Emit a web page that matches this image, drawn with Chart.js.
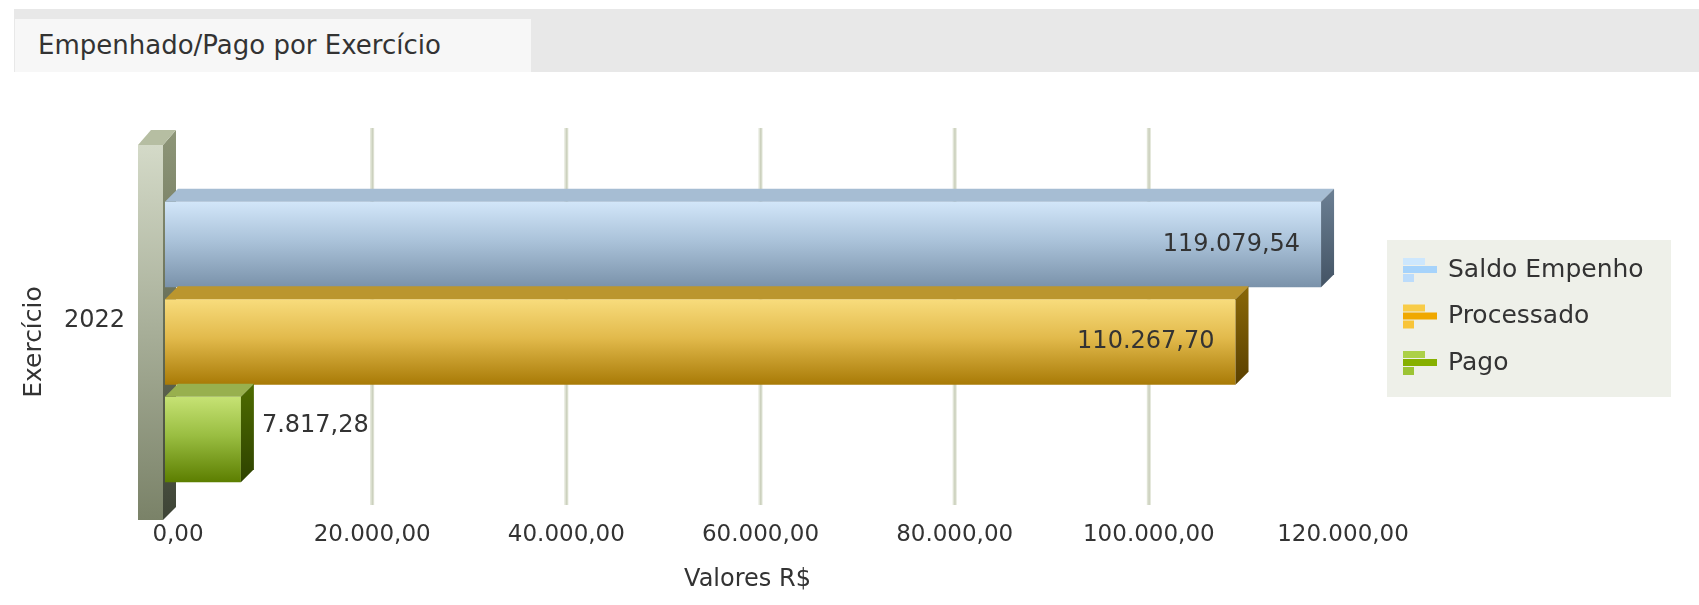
<!doctype html>
<html>
<head>
<meta charset="utf-8">
<title>Empenhado/Pago por Exercício</title>
<script src="https://cdn.jsdelivr.net/npm/chart.js@4.4.0/dist/chart.umd.min.js"></script>
<style>
	body { margin: 0; background: #fff; font-family: 'DejaVu Sans', sans-serif; }
	#bar { position: absolute; left: 14px; right: 0; top: 9px; height: 63px; background: #e8e8e8; }
	#tab { position: absolute; left: 15px; top: 19px; width: 516px; height: 53px; background: #f7f7f7;
		box-sizing: border-box; padding-left: 23px; line-height: 52px; font-size: 26px; color: #333; }
	#wrap { position: absolute; left: 0; top: 72px; width: 1699px; height: 533px; }
</style>
</head>
<body>
<div id="bar"></div>
<div id="tab">Empenhado/Pago por Exercício</div>
<div id="wrap"><canvas id="canvas" width="1699" height="533"></canvas></div>
<script>
	var categories = ['2022'];
	var seriesNames = ['Saldo Empenho', 'Processado', 'Pago'];
	var saldoEmpenho = [119079.54];
	var processado = [110267.70];
	var pago = [7817.28];
	var xTickValues = [0, 20000, 40000, 60000, 80000, 100000, 120000];

	var catPct = 0.8036, barPct = 0.877, depth = 13;
	var FONT = 'DejaVu Sans';

	// front gradient, top face, side face, legend icon colours
	var looks = [
		{ front: ['#d2e6f9', '#abc3da', '#7a92aa'], top: '#a6bdd3', side: ['#6c8094', '#435364'], icon: ['#cde7fd', '#a6d3fb', '#bcdcfb'] },
		{ front: ['#f8dc7c', '#e2ba4c', '#a87a06'], top: '#bb962e', side: ['#8a6808', '#5a4000'], icon: ['#f8cc48', '#f0a800', '#f8c438'] },
		{ front: ['#c6e274', '#9abe42', '#5c7e00'], top: '#98b04e', side: ['#4e6c00', '#2e4200'], icon: ['#acd048', '#86b000', '#9cc434'] }
	];

	function fmt(v) {
		var p = v.toFixed(2).split('.');
		return p[0].replace(/\B(?=(\d{3})+(?!\d))/g, '.') + ',' + p[1];
	}

	function frontFill(i) {
		return function (c) {
			var chart = c.chart, a = chart.chartArea, ys = chart.scales.y;
			var stops = looks[i].front;
			if (!a || !ys || c.type !== 'data') return stops[1];
			var band = a.height / categories.length * catPct;
			var slot = band / seriesNames.length;
			var top = ys.getPixelForValue(c.dataIndex) - band / 2 + slot * c.datasetIndex + slot * (1 - barPct) / 2;
			var g = chart.ctx.createLinearGradient(0, top, 0, top + slot * barPct);
			g.addColorStop(0, stops[0]);
			g.addColorStop(0.45, stops[1]);
			g.addColorStop(1, stops[2]);
			return g;
		};
	}

	function poly(ctx, pts) {
		ctx.beginPath();
		ctx.moveTo(pts[0][0], pts[0][1]);
		for (var k = 1; k < pts.length; k++) ctx.lineTo(pts[k][0], pts[k][1]);
		ctx.closePath();
		ctx.fill();
	}

	var depthPlugin = {
		id: 'depth',
		beforeDatasetsDraw: function (chart) {
			var ctx = chart.ctx, a = chart.chartArea, x = chart.scales.x;
			var L = a.left, T = a.top, B = a.bottom;
			ctx.save();
			// back grid lines, none on the first and last tick
			x.ticks.forEach(function (t, k) {
				if (k === 0 || k === x.ticks.length - 1) return;
				var px = x.getPixelForValue(t.value) + depth;
				ctx.fillStyle = '#e0e4d6';
				ctx.fillRect(px - 2, T - 32, 4, B - T + 13);
				ctx.fillStyle = '#ccd1be';
				ctx.fillRect(px - 0.5, T - 32, 1.5, B - T + 13);
			});
			// wall
			var g = ctx.createLinearGradient(0, T - 15, 0, B - 4);
			g.addColorStop(0, '#d4dac8');
			g.addColorStop(1, '#7a8268');
			ctx.fillStyle = g;
			ctx.fillRect(L - 27, T - 15, 25, B - T + 11);
			g = ctx.createLinearGradient(0, T - 30, 0, B - 4);
			g.addColorStop(0, '#8e9678');
			g.addColorStop(1, '#3e4436');
			ctx.fillStyle = g;
			poly(ctx, [[L - 2, T - 15], [L + 11, T - 30], [L + 11, B - 17], [L - 2, B - 4]]);
			ctx.fillStyle = '#b6bea2';
			poly(ctx, [[L - 27, T - 15], [L - 2, T - 15], [L + 11, T - 30], [L - 14, T - 30]]);
			ctx.restore();
		},
		afterDatasetsDraw: function (chart) {
			var ctx = chart.ctx;
			ctx.save();
			chart.data.datasets.forEach(function (ds, i) {
				chart.getDatasetMeta(i).data.forEach(function (el, j) {
					var top = el.y - el.height / 2, bot = el.y + el.height / 2;
					var x0 = el.base, x1 = el.x;
					ctx.fillStyle = looks[i].top;
					poly(ctx, [[x0, top], [x0 + depth, top - depth], [x1 + depth, top - depth], [x1, top]]);
					var g = ctx.createLinearGradient(0, top - depth, 0, bot);
					g.addColorStop(0, looks[i].side[0]);
					g.addColorStop(1, looks[i].side[1]);
					ctx.fillStyle = g;
					poly(ctx, [[x1, top], [x1 + depth, top - depth], [x1 + depth, bot - depth], [x1, bot]]);

					var txt = fmt(ds.data[j]);
					ctx.font = '24px ' + FONT;
					ctx.fillStyle = '#333';
					ctx.textBaseline = 'middle';
					var w = ctx.measureText(txt).width;
					if (x1 - x0 > w + 40) {
						ctx.textAlign = 'right';
						ctx.fillText(txt, x1 - 21, el.y);
					} else {
						ctx.textAlign = 'left';
						ctx.fillText(txt, x1 + 21, el.y - 14);
					}
				});
			});
			ctx.restore();
		},
		afterDraw: function (chart) {
			var ctx = chart.ctx, a = chart.chartArea;
			var bx = a.right + 57, by = a.top + 80;
			ctx.save();
			ctx.fillStyle = '#eef0e9';
			ctx.fillRect(bx, by, 284, 157);
			ctx.font = '25px ' + FONT;
			ctx.textBaseline = 'middle';
			ctx.textAlign = 'left';
			seriesNames.forEach(function (name, i) {
				var cy = by + 30 + i * 46.5;
				var ic = looks[i].icon;
				ctx.fillStyle = ic[0];
				ctx.fillRect(bx + 16, cy - 12, 22, 7);
				ctx.fillStyle = ic[1];
				ctx.fillRect(bx + 16, cy - 4, 34, 7);
				ctx.fillStyle = ic[2];
				ctx.fillRect(bx + 16, cy + 4, 11, 8);
				ctx.fillStyle = '#333';
				ctx.fillText(name, bx + 61, cy);
			});
			ctx.restore();
		}
	};

	var values = [saldoEmpenho, processado, pago];
	var config = {
		type: 'bar',
		data: {
			labels: categories,
			datasets: seriesNames.map(function (name, i) {
				return {
					label: name,
					data: values[i],
					backgroundColor: frontFill(i),
					borderWidth: 0,
					categoryPercentage: catPct,
					barPercentage: barPct
				};
			})
		},
		options: {
			indexAxis: 'y',
			responsive: false,
			animation: false,
			events: [],
			layout: { padding: { left: 0, right: 369, top: 88, bottom: 0 } },
			plugins: { legend: { display: false }, tooltip: { enabled: false } },
			scales: {
				x: {
					min: xTickValues[0],
					max: xTickValues[xTickValues.length - 1],
					afterBuildTicks: function (s) { s.ticks = xTickValues.map(function (v) { return { value: v }; }); },
					afterFit: function (s) { s.height = 81; },
					grid: { display: false, drawTicks: false },
					border: { display: false },
					ticks: {
						padding: -3,
						labelOffset: depth,
						maxRotation: 0,
						autoSkip: false,
						color: '#333',
						font: { family: FONT, size: 23 },
						callback: function (v) { return fmt(v); }
					},
					title: { display: true, text: 'Valores R$', color: '#333', font: { family: FONT, size: 24 }, padding: { top: 0, bottom: 11 } }
				},
				y: {
					afterFit: function (s) { s.width = 165; },
					grid: { display: false, drawTicks: false },
					border: { display: false },
					ticks: { padding: 40, labelOffset: -21, color: '#333', font: { family: FONT, size: 24 } },
					title: { display: true, text: 'Exercício', color: '#333', font: { family: FONT, size: 25 }, padding: { top: 19, bottom: 0 } }
				}
			}
		},
		plugins: [depthPlugin]
	};

	window.onload = function () {
		var ctx = document.getElementById('canvas').getContext('2d');
		window.myBar = new Chart(ctx, config);
	};
</script>
</body>
</html>
